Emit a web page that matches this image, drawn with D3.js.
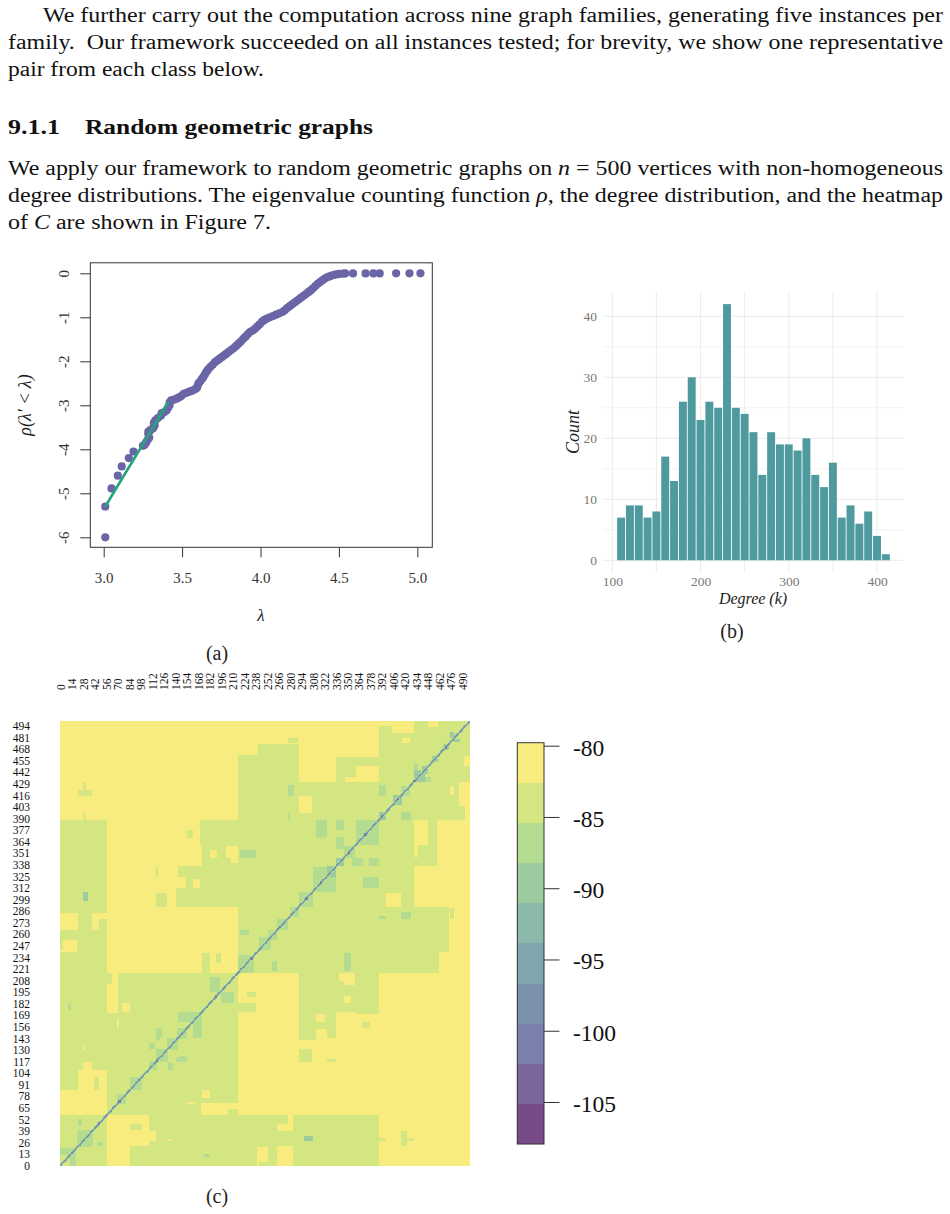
<!DOCTYPE html>
<html>
<head>
<meta charset="utf-8">
<script src="https://cdnjs.cloudflare.com/ajax/libs/d3/7.8.5/d3.min.js"></script>
<style>
  html, body { margin: 0; padding: 0; background: #fff; }
  svg { display: block; }
  text { font-family: "Liberation Serif", "DejaVu Serif", serif; }
</style>
</head>
<body>
<svg id="page" width="950" height="1214"></svg>
<script>
// ---------- Eigenvalue counting function ----------
const lambdaValues = [3.01,3.01,3.05,3.09,3.115,3.16,3.19,3.25,3.26,3.27,3.28,3.29,3.285,3.285,3.30,3.315,3.325,3.32,3.33,3.345,
  3.365,3.37,3.385,3.40,3.41,3.42,3.42,3.43,3.45,3.465,3.48,3.495,3.51,3.525,3.54,3.555,3.57,3.585,3.595,3.6,
  3.605,3.615,3.625,3.635,3.645,3.655,3.665,3.68,3.695,3.71,3.725,3.74,3.755,3.77,3.785,3.80,3.815,3.83,3.845,3.86,
  3.875,3.89,3.905,3.92,3.935,3.95,3.965,3.98,3.995,4.01,4.025,4.04,4.06,4.08,4.10,4.12,4.14,4.155,4.17,4.185,
  4.20,4.215,4.23,4.245,4.26,4.275,4.29,4.305,4.32,4.335,4.35,4.365,4.38,4.395,4.41,4.425,4.44,4.455,4.47,4.485,
  4.50,4.515,4.53,4.54,4.59,4.67,4.72,4.76,4.865,4.95,5.02];
const rhoValues = [-6,-5.3,-4.89,-4.6,-4.39,-4.2,-4.05,-3.92,-3.9,-3.85,-3.79,-3.74,-3.66,-3.6,-3.56,-3.52,-3.46,-3.4,-3.34,-3.29,
  -3.24,-3.18,-3.16,-3.12,-3.06,-3,-2.94,-2.89,-2.87,-2.85,-2.82,-2.79,-2.74,-2.72,-2.7,-2.68,-2.66,-2.63,-2.6,-2.55,
  -2.5,-2.46,-2.41,-2.36,-2.3,-2.24,-2.19,-2.13,-2.08,-2.02,-1.98,-1.94,-1.9,-1.86,-1.82,-1.78,-1.74,-1.7,-1.65,-1.6,
  -1.55,-1.49,-1.44,-1.38,-1.33,-1.3,-1.26,-1.21,-1.16,-1.1,-1.06,-1.03,-1,-0.97,-0.94,-0.91,-0.88,-0.84,-0.79,-0.75,
  -0.71,-0.67,-0.63,-0.59,-0.55,-0.51,-0.47,-0.43,-0.39,-0.34,-0.29,-0.24,-0.2,-0.16,-0.12,-0.09,-0.07,-0.05,-0.035,-0.025,
  -0.015,-0.01,-0.005,-0.003,-0.002,-0.002,-0.002,-0.002,-0.001,-0.001,0];
const fitLambda = [3.01, 3.413];
const fitRho = [-5.3, -2.92];
const lambdaTicks = [3, 3.5, 4, 4.5, 5];
const rhoTicks = [0, -1, -2, -3, -4, -5, -6];

// ---------- Degree histogram ----------
const degreeBins = [110,120,130,140,150,160,170,180,190,200,210,220,230,240,250,260,270,280,290,300,310,320,330,340,350,360,370,380,390,400,410];
const degreeCounts = [7,9,9,7,8,17,13,26,30,23,26,25,42,25,24,21,14,21,19,19,18,20,14,12,16,7,9,6,8,4,1];
const degreeTicks = [100, 200, 300, 400];
const degreeGridX = [100, 150, 200, 250, 300, 350, 400];
const countTicks = [0, 10, 20, 30, 40];
const countMinorGrid = [5, 15, 25, 35];

// ---------- Heatmap of C: symmetric blocks [i0, i1, j0, j1], painted in order ----------
const vertexCount = 500;
const baseValue = -84;
const weakBlocks = [
  [0,217,389,500],[217,291,474,500],[217,241,462,474],[291,389,460,500],[291,337,432,460],[361,389,432,449],[347,361,432,437],
  [405,432,487,500],[389,405,494,500],[417,427,475,481],[449,461,493,500],
  [57,171,361,389],[57,173,337,361],[57,144,325,337],[57,154,312,325],[57,142,291,312],[57,217,217,291],
  [0,22,265,291],[39,47,265,291],[47,57,278,284],[4,21,243,254],[0,21,240,243],
  [57,71,172,205],[64,71,205,217],[76,85,173,183],[70,72,155,165],[28,30,130,136],
  [0,57,57,85],[22,57,85,108],[28,39,108,117],
  [291,307,397,416],[203,217,346,360],[183,191,346,355],[208,217,340,346],[162,171,312,323]
];
const plainPatches = [
  [22,39,416,423],[28,32,423,432],[28,32,389,397],[278,290,475,481],[117,131,291,307],[117,120,325,337],[155,162,368,378],
  [173,183,217,239],[190,196,228,239],[41,47,85,100],[0,57,284,291]
];
const mildBlocks = [
  [361,389,361,389],[337,346,377,389],[337,346,357,369],[312,325,370,389],[278,285,416,428],[278,281,389,397],
  [389,398,416,428],[416,428,389,397],[417,427,416,423],[443,453,432,437],[433,437,443,453],[219,239,346,355],
  [356,370,337,346],[378,389,337,346],[346,360,346,360],[308,325,308,336],[369,388,312,323],[291,308,291,307],
  [280,291,280,290],[265,278,265,278],[254,265,255,265],[219,230,259,265],[243,254,243,257],[417,427,278,284],
  [217,232,217,237],[196,212,183,195],[183,191,196,207],[144,172,162,173],[144,154,143,155],[132,144,130,143],
  [118,132,117,130],[110,118,108,117],[85,100,85,98],[73,81,70,78],[118,124,145,155],[110,116,132,138],
  [132,138,108,115],[142,154,117,122],[21,40,22,38],[0,18,15,20],[12,20,0,14],[22,27,45,53],[47,53,22,27],[10,14,175,183]
];
const strongBlocks = [
  [389,398,389,397],[408,417,406,416],[435,445,432,440],[454,461,454,461],[467,474,468,473],[476,480,481,488],
  [441,447,441,449],[326,337,325,337],[337,346,337,346],[28,34,298,308]
];
const diagonalProfile = [-99, -94, -88];
const diagonalSpots = [14, 47, 72, 96, 118, 148, 190, 233, 268, 300, 318, 352, 372, 392, 412, 432, 470];
const spotValue = -102;
const rowTicks = [0,13,26,39,52,65,78,91,104,117,130,143,156,169,182,195,208,221,234,247,260,273,286,299,312,325,338,351,364,377,390,403,416,429,442,455,468,481,494];
const columnTicks = [0,14,28,42,56,70,84,98,112,126,140,154,168,182,196,210,224,238,252,266,280,294,308,322,336,350,364,378,392,406,420,434,448,462,476,490];

// ---------- Colour key ----------
const keyDomain = [-107.95, -79.79];
const keyColors = ["#784a88","#7b669e","#7a7fac","#7a92ab","#80a5ac","#8bb9ab","#9ccba0","#b3dc90","#d3e682","#f9ec7e"];
const keyTicks = [-80, -85, -90, -95, -100, -105];

// ---------- Surrounding document text ----------
const bodyLines = [
  { x: 43, y: 22, w: 900, html: "We further carry out the computation across nine graph families, generating five instances per" },
  { x: 8, y: 49, w: 935, html: "family.  Our framework succeeded on all instances tested; for brevity, we show one representative" },
  { x: 8, y: 76, w: 256, html: "pair from each class below." },
  { x: 8, y: 175, w: 935, html: 'We apply our framework to random geometric graphs on <tspan font-style="italic">n</tspan> = 500 vertices with non-homogeneous' },
  { x: 8, y: 202, w: 935, html: 'degree distributions. The eigenvalue counting function <tspan font-style="italic">ρ</tspan>, the degree distribution, and the heatmap' },
  { x: 8, y: 229, w: 263, html: 'of <tspan font-style="italic">C</tspan> are shown in Figure 7.' }
];

const svg = d3.select("#page");
svg.append("rect").attr("width", 950).attr("height", 1214).attr("fill", "#fff");

// Body paragraphs, fitted to the text block width
svg.append("g").selectAll("text").data(bodyLines).join("text")
  .attr("x", d => d.x).attr("y", d => d.y)
  .attr("font-size", 20.5).attr("fill", "#111")
  .attr("xml:space", "preserve")
  .attr("textLength", d => d.w).attr("lengthAdjust", "spacingAndGlyphs")
  .html(d => d.html);

const heading = svg.append("g").attr("font-weight", "bold").attr("font-size", 21).attr("fill", "#111");
heading.append("text").attr("x", 8).attr("y", 134).attr("textLength", 52).attr("lengthAdjust", "spacingAndGlyphs").text("9.1.1");
heading.append("text").attr("x", 85).attr("y", 134).attr("textLength", 288).attr("lengthAdjust", "spacingAndGlyphs").text("Random geometric graphs");

// Sub-figure captions
const captions = [["(a)", 217, 660], ["(b)", 732, 638], ["(c)", 217, 1203]];
svg.append("g").selectAll("text").data(captions).join("text")
  .attr("x", d => d[1]).attr("y", d => d[2])
  .attr("text-anchor", "middle").attr("font-size", 20).attr("fill", "#222")
  .text(d => d[0]);

// ---------- Panel (a): counting function scatter ----------
(function () {
  const x = d3.scaleLinear().domain([3, 5]).range([103.7, 417.3]);
  const y = d3.scaleLinear().domain([0, -6]).range([273.3, 537.3]);
  const g = svg.append("g");
  const points = lambdaValues.map((l, i) => [l, rhoValues[i]]);

  g.append("g").selectAll("circle").data(points).join("circle")
    .attr("cx", d => x(d[0])).attr("cy", d => y(d[1])).attr("r", 4.1).attr("fill", "#6a65a6");

  g.append("line")
    .attr("x1", x(fitLambda[0])).attr("y1", y(fitRho[0]))
    .attr("x2", x(fitLambda[1])).attr("y2", y(fitRho[1]))
    .attr("stroke", "#25a57c").attr("stroke-width", 2.6);

  g.append("rect").attr("x", 90.3).attr("y", 262.8).attr("width", 342).attr("height", 284.5)
    .attr("fill", "none").attr("stroke", "#333").attr("stroke-width", 1);

  const xAxis = g.append("g").attr("transform", "translate(0,547.3)")
    .call(d3.axisBottom(x).tickValues(lambdaTicks).tickFormat(d3.format(".1f")).tickSize(10));
  xAxis.select(".domain").remove();
  xAxis.selectAll("line").attr("stroke", "#333");
  xAxis.selectAll("text").attr("y", 30.5).attr("dy", "0.35em").attr("font-size", 15)
    .attr("font-family", "Liberation Serif").attr("fill", "#333");

  const yAxis = g.append("g").attr("transform", "translate(90.3,0)")
    .call(d3.axisLeft(y).tickValues(rhoTicks).tickFormat(d => String(d)).tickSize(10));
  yAxis.select(".domain").remove();
  yAxis.selectAll("line").attr("stroke", "#333");
  yAxis.selectAll("text")
    .attr("x", 0).attr("y", 0).attr("dy", 0)
    .attr("text-anchor", "middle").attr("dominant-baseline", "central")
    .attr("transform", "translate(-26,0) rotate(-90)")
    .attr("font-size", 15).attr("font-family", "Liberation Serif").attr("fill", "#333");

  g.append("text").attr("x", 261).attr("y", 621).attr("text-anchor", "middle")
    .attr("font-size", 17).attr("font-style", "italic").attr("fill", "#222").text("λ");
  g.append("text").attr("transform", "translate(31,405) rotate(-90)").attr("text-anchor", "middle")
    .attr("font-size", 18).attr("font-style", "italic").attr("fill", "#222").text("ρ(λ′ < λ)");
})();

// ---------- Panel (b): degree histogram ----------
(function () {
  const x = d3.scaleLinear().domain([100, 400]).range([612.3, 877]);
  const y = d3.scaleLinear().domain([0, 40]).range([560.3, 316.3]);
  const g = svg.append("g");
  const left = 603, right = 904, top = 291.7, bottom = 573;

  g.append("g").selectAll("line").data(degreeGridX).join("line")
    .attr("x1", d => x(d)).attr("x2", d => x(d)).attr("y1", top).attr("y2", bottom)
    .attr("stroke", "#ececec").attr("stroke-width", 1);
  g.append("g").selectAll("line").data(countMinorGrid).join("line")
    .attr("x1", left).attr("x2", right).attr("y1", d => y(d)).attr("y2", d => y(d))
    .attr("stroke", "#f2f2f2").attr("stroke-width", 1);
  g.append("g").selectAll("line").data(countTicks).join("line")
    .attr("x1", left).attr("x2", right).attr("y1", d => y(d)).attr("y2", d => y(d))
    .attr("stroke", "#ececec").attr("stroke-width", 1);

  const bins = degreeBins.map((b, i) => [b, degreeCounts[i]]);
  g.append("g").selectAll("rect").data(bins).join("rect")
    .attr("x", d => x(d[0] - 4.5)).attr("width", x(109) - x(100))
    .attr("y", d => y(d[1])).attr("height", d => y(0) - y(d[1]))
    .attr("fill", "#4f9a9f");

  const xAxis = g.append("g").attr("transform", "translate(0,572)")
    .call(d3.axisBottom(x).tickValues(degreeTicks).tickSize(0));
  xAxis.select(".domain").remove();
  xAxis.selectAll("text").attr("y", 9.5).attr("dy", "0.35em").attr("font-size", 13.5)
    .attr("font-family", "Liberation Serif").attr("fill", "#777");

  const yAxis = g.append("g").attr("transform", "translate(600,0)")
    .call(d3.axisLeft(y).tickValues(countTicks).tickSize(0));
  yAxis.select(".domain").remove();
  yAxis.selectAll("text").attr("x", -3).attr("font-size", 13.5)
    .attr("font-family", "Liberation Serif").attr("fill", "#777");

  g.append("text").attr("x", 753).attr("y", 604).attr("text-anchor", "middle")
    .attr("font-size", 16).attr("font-style", "italic").attr("fill", "#222").text("Degree (k)");
  g.append("text").attr("transform", "translate(579,432) rotate(-90)").attr("text-anchor", "middle")
    .attr("font-size", 18).attr("font-style", "italic").attr("fill", "#222").text("Count");
})();

// ---------- Panel (c): heatmap and colour key ----------
(function () {
  const indices = d3.range(vertexCount);
  const x = d3.scaleBand().domain(indices).range([60, 470]);
  const y = d3.scaleBand().domain(indices).range([1166, 721]);
  const color = d3.scaleQuantize().domain(keyDomain).range(keyColors);

  // Assemble the symmetric matrix from the block lists
  const matrix = indices.map(() => new Float32Array(vertexCount).fill(baseValue));
  const paint = (blocks, value) => blocks.forEach(([i0, i1, j0, j1]) => {
    for (let i = i0; i < Math.min(i1, vertexCount); i++)
      for (let j = j0; j < Math.min(j1, vertexCount); j++) {
        matrix[j][i] = value;
        matrix[i][j] = value;
      }
  });
  paint(weakBlocks, -81);
  paint(plainPatches, baseValue);
  paint(mildBlocks, -87);
  paint(strongBlocks, -90);
  indices.forEach(i => {
    diagonalProfile.forEach((value, offset) => {
      if (i + offset < vertexCount) { matrix[i + offset][i] = value; matrix[i][i + offset] = value; }
    });
  });
  diagonalSpots.forEach(s => {
    for (let a = s - 1; a <= s + 1; a++) for (let b = s - 1; b <= s + 1; b++) matrix[a][b] = spotValue;
  });

  // Merge equal neighbours along each row into single rectangles
  const runs = [];
  indices.forEach(j => {
    let start = 0;
    for (let i = 1; i <= vertexCount; i++) {
      if (i === vertexCount || color(matrix[j][i]) !== color(matrix[j][start])) {
        runs.push({ j, start, end: i, value: matrix[j][start] });
        start = i;
      }
    }
  });

  const g = svg.append("g");
  g.append("g").attr("shape-rendering", "crispEdges").selectAll("rect").data(runs).join("rect")
    .attr("x", d => x(d.start)).attr("width", d => x.bandwidth() * (d.end - d.start))
    .attr("y", d => y(d.j)).attr("height", y.bandwidth())
    .attr("fill", d => color(d.value));

  const top = g.append("g").attr("transform", "translate(0,690)")
    .call(d3.axisTop(x).tickValues(columnTicks).tickSize(0).tickPadding(0));
  top.select(".domain").remove();
  top.selectAll("text")
    .attr("x", 0).attr("y", 0).attr("dy", 0).attr("text-anchor", "start").attr("dominant-baseline", "central")
    .attr("transform", "translate(0.5,0) rotate(-90)")
    .attr("font-size", 11.5).attr("font-family", "Liberation Serif").attr("fill", "#111");

  const side = g.append("g").attr("transform", "translate(30,0.5)")
    .call(d3.axisLeft(y).tickValues(rowTicks).tickSize(0).tickPadding(0));
  side.select(".domain").remove();
  side.selectAll("text").attr("font-size", 11.5).attr("font-family", "Liberation Serif").attr("fill", "#111");

  // Colour key
  const keyScale = d3.scaleLinear().domain([-80, -105]).range([745.7, 1102]);
  const steps = keyColors.map((c, k) => {
    const span = (keyDomain[1] - keyDomain[0]) / keyColors.length;
    return { c, lo: keyDomain[0] + k * span, hi: keyDomain[0] + (k + 1) * span };
  });
  const key = svg.append("g");
  key.append("g").attr("shape-rendering", "crispEdges").selectAll("rect").data(steps).join("rect")
    .attr("x", 517.3).attr("width", 26.7)
    .attr("y", d => keyScale(d.hi)).attr("height", d => keyScale(d.lo) - keyScale(d.hi))
    .attr("fill", d => d.c);
  key.append("rect").attr("x", 517.3).attr("width", 26.7)
    .attr("y", keyScale(keyDomain[1])).attr("height", keyScale(keyDomain[0]) - keyScale(keyDomain[1]))
    .attr("fill", "none").attr("stroke", "#333").attr("stroke-width", 1);
  const keyAxis = key.append("g").attr("transform", "translate(544,0)")
    .call(d3.axisRight(keyScale).tickValues(keyTicks).tickFormat(d => String(d)).tickSize(15.5).tickPadding(13.5));
  keyAxis.select(".domain").remove();
  keyAxis.selectAll("line").attr("stroke", "#333");
  keyAxis.selectAll("text").attr("dy", "0.4em").attr("font-size", 23.5)
    .attr("font-family", "Liberation Serif").attr("fill", "#111");
})();
</script>
</body>
</html>
